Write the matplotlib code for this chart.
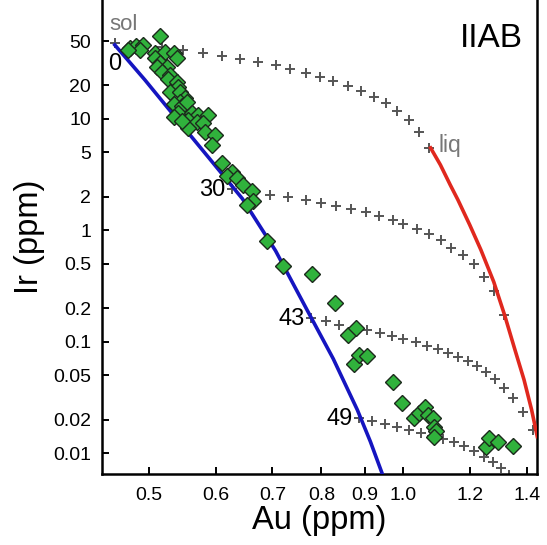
import matplotlib
matplotlib.use("Agg")
import matplotlib.pyplot as plt
from matplotlib.ticker import FixedLocator, FixedFormatter, NullLocator

plt.rcParams['font.family'] = ['Liberation Sans', 'DejaVu Sans']

# Datos: curvas del modelo (sólido, líquido) y líneas de mezcla con cruces
solid_au = [0.4556, 0.4945, 0.536, 0.590, 0.645, 0.706, 0.770, 0.826, 0.882, 0.914, 0.945]
solid_ir = [46.1, 22.4, 10.6, 4.38, 1.92, 0.655, 0.190, 0.0704, 0.0245, 0.0127, 0.0064]

liquid_au = [1.077, 1.106, 1.136, 1.160, 1.198, 1.235, 1.279, 1.317, 1.355, 1.389, 1.418, 1.440]
liquid_ir = [5.49, 3.87, 2.56, 1.88, 1.12, 0.668, 0.345, 0.175, 0.0848, 0.0456, 0.0245, 0.0141]

mix0_au = [0.4556, 0.4864, 0.518, 0.549, 0.580, 0.610, 0.641, 0.673, 0.706, 0.735, 0.766,
           0.796, 0.826, 0.861, 0.892, 0.922, 0.953, 0.984, 1.015, 1.043, 1.071]
mix0_ir = [48.0, 46.1, 44.2, 41.6, 39.1, 36.7, 34.5, 32.4, 30.5, 28.1, 25.9,
           23.8, 21.9, 19.8, 17.8, 15.8, 13.9, 11.8, 9.8, 7.6, 5.5]

mix30_au = [0.627, 0.660, 0.696, 0.731, 0.766, 0.798, 0.833, 0.866, 0.902, 0.935, 0.971,
            1.000, 1.037, 1.071, 1.107, 1.138, 1.175, 1.211, 1.245, 1.279, 1.315]
mix30_ir = [2.36, 2.21, 2.08, 2.00, 1.88, 1.76, 1.66, 1.56, 1.47, 1.35, 1.24,
            1.14, 1.03, 0.93, 0.82, 0.70, 0.60, 0.50, 0.383, 0.287, 0.175]

mix43_au = [0.778, 0.809, 0.840, 0.873, 0.905, 0.938, 0.969, 1.000, 1.034, 1.066, 1.098,
            1.128, 1.160, 1.192, 1.222, 1.252, 1.283, 1.315, 1.348, 1.385, 1.424]
mix43_ir = [0.164, 0.154, 0.142, 0.134, 0.128, 0.120, 0.113, 0.106, 0.100, 0.092, 0.0866,
            0.0796, 0.0734, 0.0675, 0.0609, 0.0538, 0.0466, 0.0387, 0.0315, 0.0236, 0.0162]

mix49_au = [0.887, 0.919, 0.950, 0.982, 1.015, 1.049, 1.080, 1.113, 1.147, 1.179, 1.211,
            1.245, 1.276, 1.304, 1.333]
mix49_ir = [0.0208, 0.0196, 0.0184, 0.0173, 0.0162, 0.0153, 0.0144, 0.0135, 0.0127, 0.0117,
            0.0105, 0.0093, 0.0084, 0.0074, 0.0064]

# Datos medidos IIAB
iiab_au = [0.515, 0.475, 0.483, 0.492, 0.488, 0.472, 0.508, 0.522, 0.536, 0.539,
           0.508, 0.515, 0.525, 0.511, 0.518, 0.530, 0.526, 0.539, 0.541, 0.530,
           0.544, 0.551, 0.544, 0.536, 0.547, 0.554, 0.541, 0.562, 0.572, 0.587,
           0.556, 0.570, 0.580, 0.556, 0.583, 0.599, 0.594, 0.610, 0.627, 0.619,
           0.636, 0.646, 0.662, 0.664, 0.653, 0.690, 0.721, 0.780, 0.831, 0.861,
           0.880, 0.873, 0.885, 0.905, 0.971, 0.997, 1.028, 1.043, 1.062, 1.068,
           1.083, 1.086, 1.092, 1.086, 1.252, 1.262, 1.293, 1.348, 0.536, 0.547]
iiab_ir = [55.5, 43.3, 45.2, 46.1, 41.6, 41.6, 39.1, 39.9, 39.1, 35.3,
           35.3, 31.8, 29.3, 29.3, 26.4, 24.8, 22.8, 21.5, 19.4, 17.5,
           17.5, 15.4, 14.2, 13.6, 13.1, 14.2, 11.3, 11.3, 10.9, 10.9,
           9.8, 9.4, 9.2, 8.3, 7.6, 7.2, 5.8, 4.03, 3.35, 3.08,
           2.96, 2.56, 2.26, 1.84, 1.69, 0.805, 0.480, 0.407, 0.224, 0.116,
           0.134, 0.0635, 0.0764, 0.0749, 0.0438, 0.0284, 0.0208, 0.0231, 0.0261, 0.0221,
           0.0208, 0.0173, 0.0159, 0.0141, 0.0114, 0.0138, 0.0127, 0.0117, 10.4, 9.6]

x_ticks = [0.5, 0.6, 0.7, 0.8, 0.9, 1.0, 1.2, 1.4]
x_tick_labels = ['0.5', '0.6', '0.7', '0.8', '0.9', '1.0', '1.2', '1.4']
y_ticks = [50, 20, 10, 5, 2, 1, 0.5, 0.2, 0.1, 0.05, 0.02, 0.01]
y_tick_labels = ['50', '20', '10', '5', '2', '1', '0.5', '0.2', '0.1', '0.05', '0.02', '0.01']

GREY = '#555555'

fig = plt.figure(figsize=(5.47, 5.45), dpi=100)
ax = fig.add_axes([102 / 547, 71 / 545, 435 / 547, 474 / 545])
ax.set_xscale('log')
ax.set_yscale('log')

# Líneas de mezcla (cruces)
for au, ir in [(mix0_au, mix0_ir), (mix30_au, mix30_ir), (mix43_au, mix43_ir), (mix49_au, mix49_ir)]:
    ax.plot(au, ir, linestyle='none', marker='+', ms=7.5, mew=1.4, color=GREY, zorder=2)

ax.plot(solid_au, solid_ir, color='#1515c0', lw=2.6, zorder=3)
ax.plot(liquid_au, liquid_ir, color='#e0281e', lw=2.6, zorder=3)

ax.plot(iiab_au, iiab_ir, linestyle='none', marker='D', ms=8.3, mfc='#30b23c',
        mec='#1c2a1c', mew=1.0, zorder=4)

# Etiquetas
ax.annotate('sol', xy=(mix0_au[0], mix0_ir[0]), xytext=(-4, 13), textcoords='offset points',
            ha='left', va='center', fontsize=16, color='#777777')
ax.annotate('0', xy=(mix0_au[0], mix0_ir[0]), xytext=(0, -15), textcoords='offset points',
            ha='center', va='center', fontsize=17, color='black')
ax.annotate('liq', xy=(mix0_au[-1], mix0_ir[-1]), xytext=(7, 2), textcoords='offset points',
            ha='left', va='center', fontsize=16.5, color='#777777')
ax.annotate('30', xy=(mix30_au[0], mix30_ir[0]), xytext=(-5, -1), textcoords='offset points',
            ha='right', va='center', fontsize=17, color='black')
ax.annotate('43', xy=(mix43_au[0], mix43_ir[0]), xytext=(-5, -1), textcoords='offset points',
            ha='right', va='center', fontsize=17, color='black')
ax.annotate('49', xy=(mix49_au[0], mix49_ir[0]), xytext=(-5, -1), textcoords='offset points',
            ha='right', va='center', fontsize=17, color='black')
ax.text(0.968, 0.952, 'IIAB', transform=ax.transAxes, ha='right', va='top', fontsize=24)

ax.set_xlim(0.44, 1.439)
ax.set_ylim(0.0065, 116.7)

ax.xaxis.set_major_locator(FixedLocator(x_ticks))
ax.xaxis.set_major_formatter(FixedFormatter(x_tick_labels))
ax.xaxis.set_minor_locator(NullLocator())
ax.yaxis.set_major_locator(FixedLocator(y_ticks))
ax.yaxis.set_major_formatter(FixedFormatter(y_tick_labels))
ax.yaxis.set_minor_locator(NullLocator())

ax.tick_params(axis='both', direction='in', length=5, width=1.4, labelsize=14)
ax.tick_params(axis='x', pad=9)
ax.tick_params(axis='y', pad=8)
for spine in ax.spines.values():
    spine.set_linewidth(1.8)
ax.spines['top'].set_visible(False)

ax.set_xlabel('Au (ppm)', fontsize=23.5, labelpad=1)
ax.set_ylabel('Ir (ppm)', fontsize=23.5, labelpad=6)

fig.savefig('out.png', dpi=100)
